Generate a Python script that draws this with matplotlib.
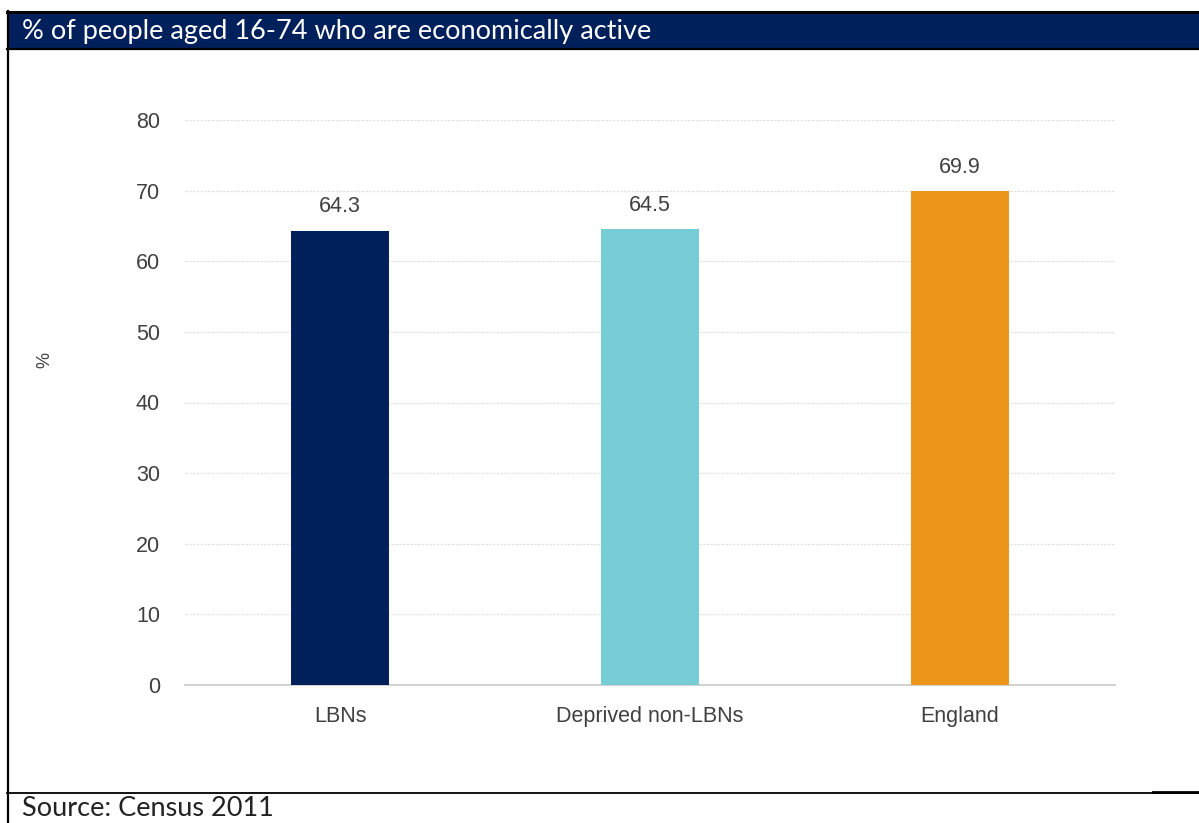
import matplotlib.pyplot as plt
from matplotlib.patches import Rectangle
from matplotlib.lines import Line2D

categories = ["LBNs", "Deprived non-LBNs", "England"]
values = [64.3, 64.5, 69.9]
colors = ["#00205B", "#76CDD6", "#EC9519"]
yticks = [0, 10, 20, 30, 40, 50, 60, 70, 80]

W, H = 1199, 823
fig = plt.figure(figsize=(W / 100, H / 100), dpi=100)

def fx(px):
    return px / W

def fy(py):
    return 1 - py / H

# header band with title
fig.add_artist(Rectangle((fx(7), fy(49)), fx(1199 - 7), fy(11) - fy(49),
                         transform=fig.transFigure, facecolor="#00205B",
                         edgecolor="none"))
fig.add_artist(Line2D([fx(7), 1], [fy(12), fy(12)], transform=fig.transFigure,
                      color="black", lw=2.2))
fig.add_artist(Line2D([fx(7), 1], [fy(48.5), fy(48.5)], transform=fig.transFigure,
                      color="black", lw=1.6))
fig.add_artist(Line2D([fx(7.5), fx(7.5)], [fy(11), 0], transform=fig.transFigure,
                      color="black", lw=1.6))
fig.add_artist(Line2D([fx(7), 1], [fy(792.5), fy(792.5)], transform=fig.transFigure,
                      color="black", lw=1.3))
fig.add_artist(Line2D([fx(1153), 1], [fy(792), fy(792)], transform=fig.transFigure,
                      color="black", lw=2.0))
fig.text(fx(22), fy(31), "% of people aged 16-74 who are economically active",
         color="white", fontsize=19.5, family="Lato", va="center", ha="left")
fig.text(fx(22), fy(809), "Source: Census 2011", color="#222222",
         fontsize=19.5, family="Lato", va="center", ha="left")
fig.text(fx(45), fy(360), "%", color="#404040", fontsize=13,
         family="Liberation Sans", rotation=90, ha="center", va="center")

ax = fig.add_axes([fx(185), fy(685), fx(1115 - 185), fy(120) - fy(685)])
x = range(len(categories))
bars = ax.bar(x, values, width=0.315, color=colors, zorder=3)
for xi, v in zip(x, values):
    ax.text(xi, v + 1.9, f"{v:.1f}", ha="center", va="bottom", fontsize=15.5,
            color="#404040", family="Liberation Sans")

ax.set_xlim(-0.5, 2.5)
ax.set_ylim(0, 80)
ax.set_yticks(yticks)
ax.set_xticks(list(x))
ax.set_xticklabels(categories)
for lab in ax.get_xticklabels() + ax.get_yticklabels():
    lab.set_family("Liberation Sans")
    lab.set_fontsize(15.5)
    lab.set_color("#404040")
ax.tick_params(axis="both", length=0)
ax.tick_params(axis="y", pad=18)
ax.tick_params(axis="x", pad=15)
ax.grid(axis="y", color="#e2e2e2", lw=0.9, ls=(0, (2, 1)), zorder=0)
for s in ["top", "right", "left"]:
    ax.spines[s].set_visible(False)
ax.spines["bottom"].set_color("#d0d0d0")
ax.spines["bottom"].set_linewidth(1.4)

fig.savefig("out.png", dpi=100)
